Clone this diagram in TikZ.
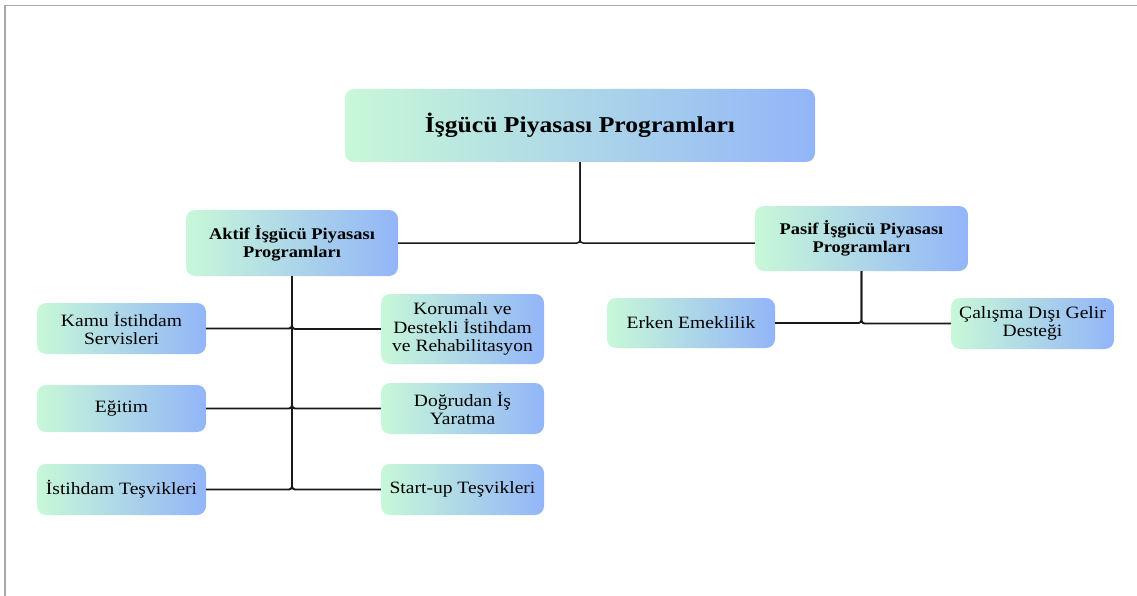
\documentclass[tikz,border=0pt]{standalone}
\usepackage{fontspec}
\setmainfont[FakeStretch=1.13]{Liberation Serif}
\definecolor{gL}{HTML}{C8F8D8}
\definecolor{gR}{HTML}{92B5F8}
\definecolor{frame}{HTML}{A8A8A8}
\tikzset{
  box/.style={rounded corners=9pt, left color=gL, right color=gR, draw=none,
    align=center, inner sep=0pt, text=black},
  topbox/.style={box, font=\fontsize{22.7}{25}\selectfont\bfseries},
  midbox/.style={box, font=\fontsize{16.3}{17.8}\selectfont\bfseries},
  leafbox/.style={box, font=\fontsize{17.3}{18.7}\selectfont},
  conn/.style={draw=black!90, line width=1.5pt, rounded corners=3pt},
  bar/.style={draw=black!90, line width=1.9pt, rounded corners=3pt},
}
\begin{document}
\begin{tikzpicture}[x=1pt,y=-1pt]
\useasboundingbox (0,0) rectangle (1137,596);
\draw[frame, line width=1.6pt] (5,596) -- (5,5.5) -- (1137,5.5);

\node[topbox, minimum width=470, minimum height=73] (top) at (580,125.5) {İşgücü Piyasası Programları};
\node[midbox, minimum width=212, minimum height=66] (aktif) at (292,243) {Aktif İşgücü Piyasası\\Programları};
\node[midbox, minimum width=213, minimum height=65] (pasif) at (861.5,238.5) {Pasif İşgücü Piyasası\\Programları};

\node[leafbox, minimum width=169, minimum height=51] (kamu) at (121.5,328.5) {Kamu İstihdam\\Servisleri};
\node[leafbox, minimum width=169, minimum height=47] (egitim) at (121.5,408.5) {Eğitim};
\node[leafbox, minimum width=169, minimum height=51] (istihdam) at (121.5,489.5) {İstihdam Teşvikleri};
\node[leafbox, minimum width=163, minimum height=70] (korumali) at (462.5,329) {Korumalı ve\\Destekli İstihdam\\ve Rehabilitasyon};
\node[leafbox, minimum width=163, minimum height=51] (dogrudan) at (462.5,408.5) {Doğrudan İş\\Yaratma};
\node[leafbox, minimum width=163, minimum height=51] (startup) at (462.5,489.5) {Start-up Teşvikleri};
\node[leafbox, minimum width=168, minimum height=50] (erken) at (691,323) {Erken Emeklilik};
\node[leafbox, minimum width=163, minimum height=51] (calisma) at (1032.5,323.5) {Çalışma Dışı Gelir\\Desteği};

% top level
\coordinate (j) at (top.south |- aktif.east);
\draw[conn] (top.south) -- (j) -- (aktif.east);
\draw[conn] (top.south) -- (j) -- (j -| pasif.west);

% aktif children
\draw[bar] (aktif.south) |- (kamu.east);
\draw[bar] (aktif.south) |- (egitim.east);
\draw[bar] (aktif.south) |- (istihdam.east);
\draw[bar] (aktif.south) |- (korumali.west);
\draw[bar] (aktif.south) |- (dogrudan.west);
\draw[bar] (aktif.south) |- (startup.west);

% pasif children
\draw[bar] (pasif.south) |- (erken.east);
\draw[bar] (pasif.south) |- (calisma.west);
\end{tikzpicture}
\end{document}
